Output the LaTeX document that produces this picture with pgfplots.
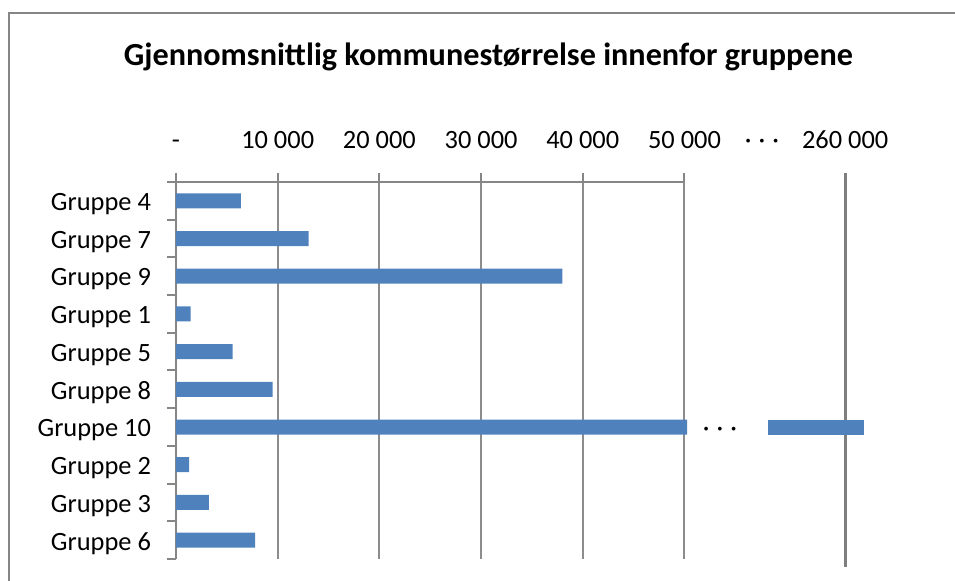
\documentclass[border=0pt]{standalone}
\usepackage{pgfplots}
\pgfplotsset{compat=1.18}
\usepackage{fontspec}
\setmainfont{Carlito}
\definecolor{barblue}{HTML}{4F81BD}
\definecolor{axisgray}{HTML}{868686}
\definecolor{gridgray}{HTML}{8C8C8C}
% Data (Gruppe 10 is drawn on a broken axis: display = real - 194190 beyond the break)
\pgfplotstableread{
idx  main   gap   tail
0    6390   0     0
1    13050  0     0
2    37990  0     0
3    1440   0     0
4    5570   0     0
5    9500   0     0
6    50250  7960  9410
7    1280   0     0
8    3240   0     0
9    7770   0     0
}\datatable
\begin{document}
\begin{tikzpicture}
\useasboundingbox (0,0) rectangle (477.5pt,-290.5pt);
\draw[axisgray, line width=1pt] (4.5pt,-700pt) -- (4.5pt,-6.5pt) -- (700pt,-6.5pt);
\node[font=\bfseries\fontsize{16.1}{19}\selectfont, anchor=base] at (244.25pt,-33pt) {Gjennomsnittlig kommunestørrelse innenfor gruppene};
\begin{axis}[
  scale only axis, width=355.95pt, height=188.5pt,
  at={(88pt,-279.5pt)}, anchor=south west,
  clip=false,
  xbar stacked, bar width=7.5pt,
  xmin=0, xmax=70000, ymin=-0.5, ymax=9.5, y dir=reverse,
  scaled x ticks=false,
  axis x line*=top, axis y line*=left,
  axis line style={draw=none},
  tick align=outside, major tick length=4.5pt,
  tick style={axisgray, line width=1pt},
  xtick={0,10000,20000,30000,40000,50000},
  xticklabels={-,10 000,20 000,30 000,40 000,50 000},
  extra x ticks={65800}, extra x tick labels={260 000},
  extra x tick style={major grid style={axisgray!95!black, line width=1.5pt}, tick style={axisgray!95!black, line width=1.5pt}},
  xmajorgrids, major grid style={gridgray, line width=1pt},
  xticklabel style={yshift=8.5pt},
  ytick={-0.5,0.5,...,9.5},
  yticklabels={Gruppe 4,Gruppe 7,Gruppe 9,Gruppe 1,Gruppe 5,Gruppe 8,Gruppe 10,Gruppe 2,Gruppe 3,Gruppe 6,{}},
  yticklabel style={yshift=-11pt, xshift=-4.5pt},
  tick label style={font=\fontsize{13.2}{15}\selectfont},
]
\addplot[fill=barblue, draw=none] table[x=main, y=idx] {\datatable};
\addplot[fill=none, draw=none] table[x=gap, y=idx] {\datatable};
\addplot[fill=barblue, draw=none] table[x=tail, y=idx] {\datatable};
\draw[axisgray, line width=1pt] (axis cs:0,9.5) -- (axis cs:0,-0.5) -- (axis cs:50000,-0.5);
\draw[axisgray!95!black, line width=1.5pt] (axis cs:65800,9.5) -- (axis cs:65800,9.72);
\node[font=\fontsize{13.2}{15}\selectfont] at (axis cs:53490,6.12) {·\hspace{3.5pt}·\hspace{3.5pt}·};
\node[font=\fontsize{13.2}{15}\selectfont] at (axis cs:57620,-1.5) {·\hspace{3.5pt}·\hspace{3.5pt}·};
\end{axis}
\end{tikzpicture}
\end{document}
